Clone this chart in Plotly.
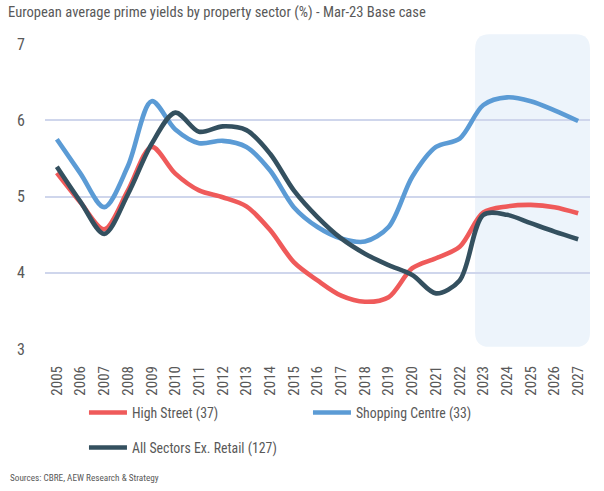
import plotly.graph_objects as go

years = list(range(2005, 2028))
year_labels = [str(y) for y in years]

high_street = [5.31, 4.92, 4.57, 5.08, 5.65, 5.30, 5.08, 4.99, 4.87, 4.56, 4.14, 3.90, 3.70, 3.62, 3.68, 4.06, 4.19, 4.34, 4.79, 4.87, 4.89, 4.86, 4.78]
shopping_centre = [5.75, 5.30, 4.86, 5.40, 6.25, 5.88, 5.70, 5.73, 5.65, 5.34, 4.86, 4.60, 4.45, 4.41, 4.60, 5.26, 5.65, 5.76, 6.20, 6.30, 6.25, 6.13, 5.99]
all_sectors = [5.39, 4.93, 4.51, 5.03, 5.69, 6.10, 5.85, 5.92, 5.87, 5.56, 5.08, 4.73, 4.45, 4.25, 4.10, 3.97, 3.73, 3.90, 4.76, 4.76, 4.65, 4.54, 4.44]

series_names = ["High Street (37)", "Shopping Centre (33)", "All Sectors Ex. Retail (127)"]
series_colors = ["#ef5a5a", "#5b9bd5", "#34505f"]

FONT = "Liberation Sans Narrow, Roboto Condensed, Roboto, sans-serif"
TXT = "#595959"

fig = go.Figure()
for vals, name, col, leg in zip([high_street, shopping_centre, all_sectors], series_names, series_colors,
                                ["legend", "legend", "legend2"]):
    fig.add_trace(go.Scatter(x=years, y=vals, name=name, mode="lines",
                             line=dict(color=col, width=4.6, shape="spline", smoothing=0.9),
                             legend=leg))

# forecast shading with rounded corners (x in data units, y in paper units)
x0, x1, y0, y1 = 2022.65, 2027.5, 0.007, 1.032
rx, ry = 0.6, 0.048
path = (f"M{x0+rx},{y0} L{x1-rx},{y0} Q{x1},{y0} {x1},{y0+ry} L{x1},{y1-ry} Q{x1},{y1} {x1-rx},{y1} "
        f"L{x0+rx},{y1} Q{x0},{y1} {x0},{y1-ry} L{x0},{y0+ry} Q{x0},{y0} {x0+rx},{y0} Z")
fig.add_shape(type="path", path=path, xref="x", yref="paper", fillcolor="#edf4fb",
              line=dict(width=0), layer="below")

fig.update_layout(
    width=604, height=491,
    margin=dict(l=45, r=14, t=44, b=142),
    paper_bgcolor="white", plot_bgcolor="white",
    font=dict(family=FONT, color=TXT, size=15),
    title=dict(text="European average prime yields by property sector (%) - Mar-23 Base case",
               x=8/604, xanchor="left", xref="container", y=1-12/491, yanchor="middle", yref="container",
               font=dict(size=14.6, color=TXT, family=FONT)),
    xaxis=dict(range=[2004.5, 2027.5], tickmode="array", tickvals=years, ticktext=year_labels,
               tickangle=-90, showgrid=False, zeroline=False, showline=False, ticks="", automargin=False,
               ticklabelstandoff=13, tickfont=dict(size=15, color=TXT)),
    yaxis=dict(range=[3, 7], tickvals=[3, 4, 5, 6, 7], showgrid=True, gridcolor="#cfd6ec", gridwidth=2,
               zeroline=False, showline=False, ticks="", ticklabelstandoff=19, automargin=False,
               tickfont=dict(size=16, color=TXT)),
    legend=dict(orientation="h", x=0.0715, xanchor="left", y=1-397/491, yanchor="top", yref="container",
                entrywidth=171, entrywidthmode="pixels", itemwidth=38,
                font=dict(size=13.8, color=TXT, family=FONT), bgcolor="rgba(0,0,0,0)"),
    legend2=dict(orientation="h", x=0.0715, xanchor="left", y=1-432/491, yanchor="top", yref="container",
                 itemwidth=38, font=dict(size=13.8, color=TXT, family=FONT), bgcolor="rgba(0,0,0,0)"),
    showlegend=True,
)

fig.add_annotation(text="Sources: CBRE, AEW Research & Strategy", xref="paper", yref="paper",
                   x=(8-45)/545, y=(349-478)/305.3, xanchor="left", yanchor="middle", showarrow=False,
                   font=dict(size=9.2, color=TXT, family=FONT))

fig.write_html("out.html", config={"displayModeBar": False},
               post_script="document.body.style.margin='0';")
